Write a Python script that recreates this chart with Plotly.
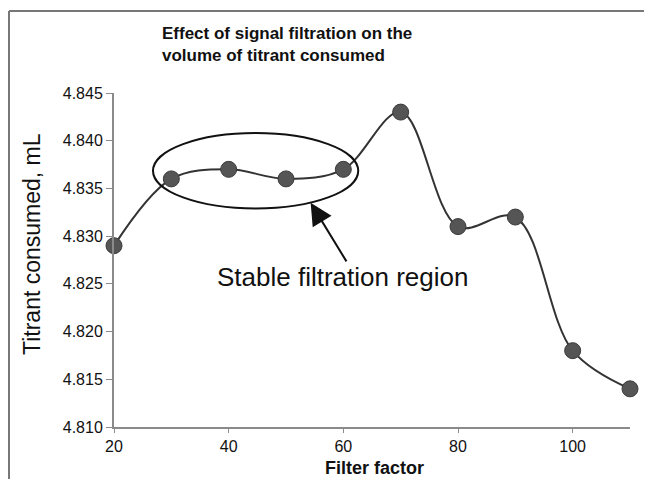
import plotly.graph_objects as go

filter_factor = [20, 30, 40, 50, 60, 70, 80, 90, 100, 110]
titrant_ml = [4.829, 4.836, 4.837, 4.836, 4.837, 4.843, 4.831, 4.832, 4.818, 4.814]
x_ticks = [20, 40, 60, 80, 100]
y_ticks = [4.810, 4.815, 4.820, 4.825, 4.830, 4.835, 4.840, 4.845]
y_tick_labels = ["4.810", "4.815", "4.820", "4.825", "4.830", "4.835", "4.840", "4.845"]

FONT = "Liberation Sans, Arial, sans-serif"

fig = go.Figure()
fig.add_trace(go.Scatter(
    x=filter_factor, y=titrant_ml, mode="lines+markers",
    line=dict(color="#333333", width=2, shape="spline", smoothing=1),
    marker=dict(size=16, color="#555555", line=dict(color="#3a3a3a", width=1)),
    cliponaxis=False, showlegend=False,
))

OFF = 8  # page body margin
W, H = 652 - 2 * OFF, 487 - 2 * OFF
SX0, SX1, SY0, SY1 = 114, 630, 93, 427
L = SX0 - OFF
T = SY0 - OFF
R = W - (SX1 - OFF)
B = H - (SY1 - OFF)
pw, ph = SX1 - SX0, SY1 - SY0

def px(xs):
    return (xs - SX0) / pw

def py(ys):
    return (SY1 - ys) / ph

fig.update_layout(
    width=W, height=H,
    margin=dict(l=L, r=R, t=T, b=B),
    paper_bgcolor="white", plot_bgcolor="white",
    font=dict(family=FONT, color="#111111"),
    xaxis=dict(range=[20, 110], tickvals=x_ticks, showgrid=False, zeroline=False,
               showline=True, linecolor="#8a8a8a", linewidth=2,
               ticks="outside", ticklen=4, tickcolor="#8a8a8a", tickwidth=1,
               tickfont=dict(size=16, family=FONT, color="#111111")),
    yaxis=dict(range=[4.810, 4.845], tickvals=y_ticks, ticktext=y_tick_labels,
               showgrid=False, zeroline=False,
               showline=True, linecolor="#8a8a8a", linewidth=2,
               ticks="outside", ticklen=6, tickcolor="#8a8a8a", tickwidth=1,
               tickfont=dict(size=16, family=FONT, color="#111111")),
)

# outer frame: only its top and left edges fall inside the picture
frame_line = dict(color="#777777", width=2)
fig.add_shape(type="line", xref="paper", yref="paper",
              x0=px(OFF + 1), x1=px(OFF + W), y0=py(11), y1=py(11), line=frame_line)
fig.add_shape(type="line", xref="paper", yref="paper",
              x0=px(OFF + 1), x1=px(OFF + 1), y0=py(11), y1=py(OFF + H), line=frame_line)

# ellipse around stable region
fig.add_shape(type="circle", xref="x", yref="y",
              x0=26.8, x1=62.6, y0=4.8329, y1=4.8408,
              line=dict(color="#111111", width=2))

# arrow
fig.add_annotation(x=54.3, y=4.8335, ax=60.7, ay=4.8272, xref="x", yref="y",
                   axref="x", ayref="y", text="", showarrow=True,
                   arrowhead=2, arrowsize=2.2, arrowwidth=2, arrowcolor="#111111")

fig.add_annotation(x=59.8, y=4.8257, xref="x", yref="y", text="Stable filtration region",
                   showarrow=False, xanchor="center", yanchor="middle",
                   font=dict(size=26, family=FONT, color="#111111"))

# title
fig.add_annotation(x=px(160), y=py(44), xref="paper", yref="paper",
                   xanchor="left", yanchor="middle", align="left", showarrow=False,
                   text="<b>Effect of signal filtration on the<br>volume of titrant consumed</b>",
                   font=dict(size=17, family=FONT, color="#111111"))

# axis titles
fig.add_annotation(x=px(32), y=py(244), xref="paper", yref="paper", textangle=-90,
                   xanchor="center", yanchor="middle",
                   showarrow=False, text="Titrant consumed, mL",
                   font=dict(size=23, family=FONT, color="#111111"))
fig.add_annotation(x=px(374), y=py(468), xref="paper", yref="paper",
                   xanchor="center", yanchor="middle",
                   showarrow=False, text="<b>Filter factor</b>",
                   font=dict(size=18, family=FONT, color="#111111"))

fig.write_html("out.html")
